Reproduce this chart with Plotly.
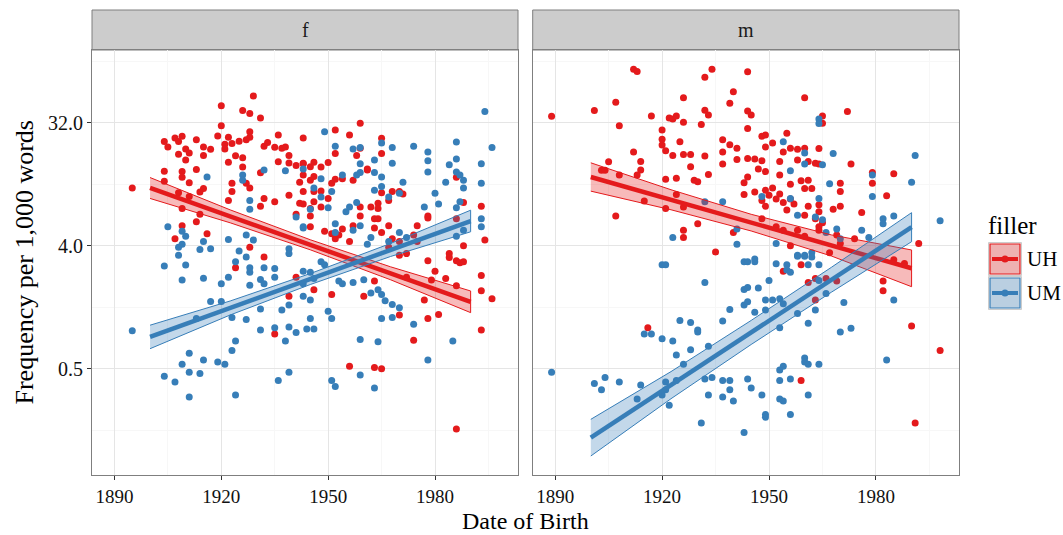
import plotly.graph_objects as go
import math

# ---------------- data ----------------
f_uh_year = [1895,1929,1920,1926,1928,1931,1920,1919,1904,1905,1907,1908,1909,1913,1915,1917,1910,1911,1910,1908,
             1915,1913,1904,1909,1909,1911,1904,1915,1914,1908,1911,1909,1914,1913,1916,1909,1907,1921,1921,1922,
             1923,1925,1927,1928,1928,1924,1926,1922,1926,1923,1923,1927,1928,1922,1931,1932,1933,1935,1936,1937,
             1938,1939,1936,1939,1941,1943,1943,1942,1939,1942,1935,1932,1931,1941,1928,1932,1924,1939,1935,1941,
             1952,1956,1959,1952,1958,1959,1965,1965,1943,1945,1946,1948,1950,1943,1945,1946,1952,1954,1957,1961,
             1943,1946,1948,1951,1946,1948,1950,1945,1943,1945,1945,1949,1952,1954,1957,1959,1959,1962,1964,1964,
             1965,1967,1968,1970,1971,1963,1964,1965,1967,1963,1956,1953,1951,1968,1970,1975,1975,1978,1978,1986,
             1988,1993,1994,1988,1984,1974,1972,1970,1967,1961,1986,
             1993,1993,1996,1993,1978,1980,1983,1986,1979,1977,1981,1978,1970,1974,1984,1986,1987,1988,1972,1951,
             1960,1963,1946,1956,1963,1965,1986]
f_uh_freq = [10.6,50.3,42.6,39.3,37.4,34.6,30.4,25.6,23.3,21.2,24.7,23.3,25.4,24,21.2,20.4,20.5,19.2,17,18.8,
             18.4,14.5,14.1,14.0,12.7,11.6,11.9,10.5,9.9,9.8,9.2,7.5,6.8,6.0,4.9,5.6,4.5,22.2,20.5,25,
             22.5,23.4,24,27.5,25,18.3,17.7,16.4,15.1,11.5,10.0,11.5,10.6,8.6,13.7,21.5,22.9,21.1,26,20.8,
             21.2,18.4,16.5,16.2,15.5,24.7,16.1,11.7,9.4,8.2,8.4,8.9,7.8,6.8,3.9,3.3,2.75,1.7,0.9,2.35,
             28.3,26,31.7,19,18.4,20.8,24.6,19,16.0,15.2,16.4,15.1,16.3,13.2,12.1,12.9,12.3,12.4,12.1,14.4,
             10.0,10.0,10.1,11.5,8.4,7.7,8.9,7.5,8.1,6.6,5.5,5.1,4.5,5.3,5.6,6.6,7.7,7.7,8.2,7.5,
             9.8,8.6,10.0,10.0,9.6,6.3,6.3,5.0,5.6,5.4,4.3,4.8,4.9,4.5,4.3,5.6,4.3,6.6,6.4,6.3,
             8.3,7.8,4.4,4.0,3.5,4.8,3.5,3.4,3.9,14.6,12.7,
             2.42,1.87,1.63,0.96,3.1,2.6,2.3,2.03,2.24,1.6,1.25,1.17,1.24,0.81,3.28,3.1,3.0,3.05,2.35,1.75,
             1.7,2.2,1.9,0.52,0.51,0.5,0.18]

f_um_year = [1916,1926,1926,1932,1938,1943,1928,1928,1905,1909,1910,1908,1909,1915,1917,1914,1922,1927,1929,1925,
             1927,1908,1941,1943,1939,1939,
             1904,1910,1909,1915,1920,1922,1924,1928,1928,1932,1935,1935,1931,1932,1928,1917,1920,1913,1923,1927,
             1931,1937,1939,1895,1931,1935,1939,1941,1938,1924,1923,1911,1909,1915,1919,1921,1904,1907,1911,1914,
             1911,1924,1936,1939,1943,
             1994,1996,1949,1952,1957,1959,1965,1968,1974,1978,1978,1978,1986,1986,1984,1986,1987,1988,1988,1993,
             1993,1983,1980,1981,1977,1987,1986,1993,1993,1986,1988,1963,1959,1959,1958,1954,1963,1965,1965,1963,
             1968,1971,1970,1967,1948,1946,1948,1951,1950,1945,1943,1952,1955,1956,1958,1959,1957,1952,1961,1962,
             1967,1970,1972,
             1985,1978,1959,1964,1951,1952,1959,1963,1950,1951,1945,1944,1946,1945,1965,1968,1968,1970,1974,1953,
             1954,1957,1960,1962,1964,1965,1966,1943,1945,1946,1948,1949,1943]
f_um_freq = [12.8,13.2,12.1,14.4,14.2,14.6,8.6,7.4,5.5,5.1,4.7,3.9,4.1,4.3,3.8,3.75,4.45,4.8,4.4,3.65,
             3.3,3.4,6.5,5.4,3.8,3.5,
             2.84,2.89,2.24,2.31,2.1,2.35,3.05,2.75,2.55,2.76,2.72,2.35,2.26,2.1,2.05,1.56,1.56,1.17,1.19,1.15,
             1.37,1.35,1.47,0.95,0.96,1.0,1.01,0.92,0.8,0.8,0.68,0.65,0.54,0.58,0.56,0.54,0.44,0.4,0.47,0.46,
             0.31,0.32,0.41,0.47,1.7,
             38.7,21,27.5,21.5,20.5,21,22.7,21,21.5,19.5,16.8,13.9,23.1,17.3,15.7,13.9,13.2,12.1,10.6,16,
             11.5,11.7,9.7,8.1,7.7,8.4,7.6,6.3,5.5,4.7,5.2,17,16,13.8,13.2,13.2,13.8,12.8,10.9,10.2,
             16.1,11.7,9.7,9.1,12.4,10.6,9.1,10,7.6,7.4,5.5,5.8,7.1,7.7,8.3,5.6,5.2,5.0,4.1,4.6,
             4.3,5.0,4.6,
             0.8,0.58,0.82,0.79,0.41,0.37,0.45,0.36,1.32,1.17,1.17,0.98,0.98,1.6,1.17,1.19,1.48,1.4,1.06,2.2,
             2.1,2.15,2.25,1.8,1.9,1.75,1.58,2.6,2.55,2.3,3.05,2.9,2.1]

m_uh_year = [1889,1901,1907,1912,1913,1917,1908,1922,1923,1924,1926,1926,1932,1934,1932,1933,1931,1940,1939,1920,
             1920,1920,1921,1925,1923,1926,1928,1932,1928,1933,1929,1930,1937,1937,1939,1941,1937,1941,1943,1943,
             1912,1914,1914,1913,1905,1903,1904,1908,1921,1924,1924,1921,1915,1907,1926,1926,1930,1935,1940,1926,
             1944,1960,1972,1944,1945,1944,1948,1949,1955,1951,1949,1956,1958,1960,1964,1954,1953,1948,1946,1944,
             1961,1963,1964,1958,1973,1947,1949,1953,1944,1956,1959,1961,1960,1962,1951,1949,1946,1953,1950,1952,
             1948,1949,1954,1956,1957,1961,1964,1964,1963,1965,1964,1964,1968,1970,1970,1970,1979,1979,1985,1983,
             1976,1955,1960,1948,1952,1954,1956,1958,1960,1967,1969,1970,1974,1992,1965,1965,
             1916,1990,1998,1991,1982,1982,1959,1985,1988,1954,1959,1961,1963,1963,1966,1969]
m_uh_freq = [35.7,39.3,45.2,79,76,35.9,30.4,34.6,34,35.9,48.7,32.3,69,79,39.5,36.5,31,54,44.5,28.3,
             24.2,21.9,19.9,23.2,18.4,18.7,18.7,18.2,15.2,13.3,12.1,11.8,24,19.5,22,20.8,15.9,17.2,11.6,9.5,
             19.5,16.6,14.4,13.2,16.5,14.3,14.3,13.2,12.3,12.5,9.5,7.5,8.5,6.6,5.2,4.6,5.8,3.6,5.0,7.7,
             75.7,48.7,38.7,39,36.5,29,25.4,26,26.8,22.7,21.2,20.8,20.4,20.8,20.7,19.5,16.6,16.8,17.3,17.5,
             16.6,16.1,15.9,17,15.9,14.6,14.0,13.2,12.8,11.3,12,12.1,10.5,10.5,10.6,10.2,9.9,9.6,9.4,8.8,
             8.6,7.8,8.3,8.8,8.1,7.8,8.0,7.1,6.3,5.9,5.5,5.2,7.4,7.8,10,11.5,13.8,11.5,13.5,9.3,
             7.0,7.3,6.7,6.3,5.5,5.2,4.0,5.2,4.7,3.55,4.8,4.15,4.5,4.15,35.9,31.7,
             1.0,1.03,0.68,0.2,2.2,1.87,0.41,3.15,2.96,2.6,2.9,2.15,2.3,1.6,2.3,2.2]

m_um_year = [1932,1937,1923,1941,1941,
             1964,1964,1954,1960,1960,1965,1968,1956,1991,1990,1979,1979,1967,1948,1956,1964,1958,1963,1965,1969,
             1976,1978,1982,1982,1985,1998,1966,1970,1952,1958,1960,1962,1946,
             1920,1921,1932,1939,1937,1925,1928,1930,1930,1915,1917,1920,1923,1924,1926,1928,1933,1889,1901,1903,
             1904,1908,1914,1913,1921,1921,1920,1922,1924,1932,1934,1937,1939,1939,1937,1940,1933,1931,1943,1943,
             1943,1943,
             1944,1946,1952,1955,1955,1956,1958,1960,1961,1962,1964,1950,1947,1944,1944,1946,1949,1949,1951,1953,
             1954,1958,1961,1963,1964,1966,1971,1970,1973,1985,1953,1960,1960,1961,1964,1954,1953,1953,1956,1944,
             1945,1948,1953,1954,1961,1956,1949,1949,1983]
m_um_freq = [8.4,8.4,4.6,5.3,4.1,
             34,31.5,23.2,19.2,15.9,15.7,19,14.2,18.4,11.7,13.2,9.2,11.4,9.2,8.9,8.9,6.7,6.5,6.2,5.3,
             5.2,4.6,6.3,5.8,6.6,6.1,5.0,4.5,4.15,3.4,3.4,3.55,3.2,
             2.9,2.9,2.15,1.36,1.12,1.13,1.09,0.96,0.93,0.9,0.9,0.83,0.8,0.63,0.54,0.69,0.73,0.47,0.39,0.35,
             0.43,0.4,0.38,0.3,0.4,0.35,0.32,0.27,0.41,0.42,0.43,0.41,0.41,0.35,0.31,0.29,0.32,0.2,0.17,3.05,
             1.91,1.47,
             3.05,3.05,2.95,2.9,2.65,2.55,3.35,3.35,2.9,3.3,2.9,2.22,1.96,1.97,1.55,1.3,1.6,1.35,1.6,1.63,
             1.5,1.27,1.08,1.35,2.22,1.78,1.53,0.93,0.99,1.6,1.0,0.6,0.56,0.54,0.54,0.52,0.49,0.41,0.42,0.42,
             0.36,0.32,0.3,0.29,0.32,0.23,0.23,0.22,0.58]

# fitted regression lines (log scale) with 95% confidence band, read at these years
fit_year = [1900, 1922.5, 1945, 1967.5, 1990]
f_uh_fit = [10.61, 6.56, 4.05, 2.51, 1.55]
f_uh_hi = [12.66, 7.33, 4.42, 2.80, 1.86]
f_uh_lo = [8.89, 5.89, 3.73, 2.25, 1.29]
f_um_fit = [0.855, 1.395, 2.278, 3.72, 6.07]
f_um_hi = [1.043, 1.571, 2.498, 4.15, 7.29]
f_um_lo = [0.701, 1.240, 2.075, 3.33, 5.06]
m_uh_fit = [12.78, 8.69, 5.90, 4.01, 2.73]
m_uh_hi = [16.24, 10.30, 6.80, 4.80, 3.72]
m_uh_lo = [10.06, 7.34, 5.13, 3.36, 2.00]
m_um_fit = [0.1558, 0.379, 0.922, 2.248, 5.47]
m_um_hi = [0.2124, 0.476, 1.131, 2.775, 6.99]
m_um_lo = [0.1142, 0.301, 0.753, 1.822, 4.28]

facets = ["f", "m"]
fillers = ["UH", "UM"]
x_ticks = [1890, 1920, 1950, 1980]
x_minor = [1905, 1935, 1965, 1995]
y_ticks = [0.5, 4, 32]
y_tick_labels = ["0.5", "4.0", "32.0"]
y_minor = [0.1768, 1.4142, 11.314, 90.51]

# ---------------- styling ----------------
RED = "#E41A1C"
BLUE = "#377EB8"
RED_FILL = "rgba(228,26,28,0.30)"
BLUE_FILL = "rgba(55,126,184,0.30)"
FONT = "Liberation Serif"
W, H = 1063, 535
L_PX, R_PX, T_PX, B_PX = 92, 959, 10, 475   # plot region (pixels)
PANEL_TOP = 50

def px(x):
    return (x - L_PX) / (R_PX - L_PX)

def py(y):
    return (B_PX - y) / (B_PX - T_PX)

fig = go.Figure()

groups = {
    ("f", "UH"): (f_uh_year, f_uh_freq, f_uh_fit, f_uh_lo, f_uh_hi),
    ("f", "UM"): (f_um_year, f_um_freq, f_um_fit, f_um_lo, f_um_hi),
    ("m", "UH"): (m_uh_year, m_uh_freq, m_uh_fit, m_uh_lo, m_uh_hi),
    ("m", "UM"): (m_um_year, m_um_freq, m_um_fit, m_um_lo, m_um_hi),
}
colors = {"UH": (RED, RED_FILL), "UM": (BLUE, BLUE_FILL)}
axes = {"f": ("x", "y"), "m": ("x2", "y2")}

for fac in facets:
    xa, ya = axes[fac]
    for fil in fillers:
        yr, fr, _, _, _ = groups[(fac, fil)]
        fig.add_trace(go.Scatter(x=yr, y=fr, mode="markers", xaxis=xa, yaxis=ya,
                                 marker=dict(color=colors[fil][0], size=7, line=dict(width=0)),
                                 showlegend=False, hoverinfo="skip"))
    for fil in fillers:
        _, _, fit, lo, hi = groups[(fac, fil)]
        col, fill = colors[fil]
        fig.add_trace(go.Scatter(x=fit_year + fit_year[::-1], y=hi + lo[::-1], mode="lines",
                                 fill="toself", fillcolor=fill, line=dict(color=col, width=1),
                                 xaxis=xa, yaxis=ya, showlegend=False, hoverinfo="skip"))
        fig.add_trace(go.Scatter(x=fit_year, y=fit, mode="lines", line=dict(color=col, width=4.5),
                                 xaxis=xa, yaxis=ya, showlegend=False, hoverinfo="skip"))

ylo, yhi = math.log10(2 ** -3.593), math.log10(2 ** 6.773)
ydom_top = py(PANEL_TOP)
split = (518 - L_PX) / (R_PX - L_PX)
split2 = (532.7 - L_PX) / (R_PX - L_PX)

grid_major = "#E5E5E5"
grid_minor = "#F7F7F7"
axis_common = dict(showline=True, mirror=True, linecolor="#7F7F7F", linewidth=1,
                   gridcolor=grid_major, gridwidth=1, zeroline=False,
                   ticks="outside", ticklen=4, tickcolor="#333333", tickwidth=1,
                   tickfont=dict(family=FONT, size=19, color="#111111"))

xcommon = dict(axis_common, range=[1883.7, 2003.3], tickmode="array", tickvals=x_ticks,
               ticktext=[str(v) for v in x_ticks],
               minor=dict(tickvals=x_minor, showgrid=True, gridcolor=grid_minor, gridwidth=1))
ycommon = dict(axis_common, type="log", range=[ylo, yhi], tickmode="array", tickvals=y_ticks,
               ticktext=y_tick_labels,
               minor=dict(tickvals=y_minor, showgrid=True, gridcolor=grid_minor, gridwidth=1))

fig.update_layout(
    width=W, height=H,
    margin=dict(l=L_PX, r=W - R_PX, t=T_PX, b=H - B_PX),
    paper_bgcolor="white", plot_bgcolor="white",
    showlegend=False,
    xaxis=dict(xcommon, domain=[0, split], anchor="y"),
    xaxis2=dict(xcommon, domain=[split2, 1], anchor="y2"),
    yaxis=dict(ycommon, domain=[0, ydom_top], anchor="x", tickfont=dict(family=FONT, size=20, color="#111111")),
    yaxis2=dict(ycommon, domain=[0, ydom_top], anchor="x2", matches="y", showticklabels=False,
                ticks=""),
)

shapes = []
annotations = []
# facet strips
for fac, (d0, d1) in zip(facets, [(0, split), (split2, 1)]):
    shapes.append(dict(type="rect", xref="paper", yref="paper", x0=d0, x1=d1, y0=ydom_top, y1=1,
                       fillcolor="#CCCCCC", line=dict(color="#7F7F7F", width=1), layer="below"))
    annotations.append(dict(text=fac, xref="paper", yref="paper", x=(d0 + d1) / 2,
                            y=(ydom_top + 1) / 2, showarrow=False,
                            font=dict(family=FONT, size=20, color="#1A1A1A"),
                            xanchor="center", yanchor="middle"))

# axis titles
annotations.append(dict(text="Date of Birth", xref="paper", yref="paper", x=px(525.5), y=py(521),
                        showarrow=False, font=dict(family=FONT, size=24, color="black"),
                        xanchor="center", yanchor="middle"))
annotations.append(dict(text="Frequency per 1,000 words", xref="paper", yref="paper", x=px(24),
                        y=py(262.5), showarrow=False, textangle=-90,
                        font=dict(family=FONT, size=26, color="black"),
                        xanchor="center", yanchor="middle"))

# legend (drawn manually to mimic ggplot key: filled box + line + point)
annotations.append(dict(text="filler", xref="paper", yref="paper", x=px(986), y=py(226),
                        showarrow=False, font=dict(family=FONT, size=25, color="black"),
                        xanchor="left", yanchor="middle"))
for i, fil in enumerate(fillers):
    col, fill = colors[fil]
    top = 242.5 + i * 34
    bot = top + 33
    cy = (top + bot) / 2
    shapes.append(dict(type="rect", xref="paper", yref="paper", x0=px(988.5), x1=px(1021.5),
                       y0=py(bot), y1=py(top), fillcolor="#F2F2F2",
                       line=dict(color="#CCCCCC", width=1)))
    shapes.append(dict(type="rect", xref="paper", yref="paper", x0=px(990), x1=px(1020),
                       y0=py(bot - 1.5), y1=py(top + 1.5), fillcolor=fill,
                       line=dict(color=col, width=1.2)))
    shapes.append(dict(type="line", xref="paper", yref="paper", x0=px(992), x1=px(1018),
                       y0=py(cy), y1=py(cy), line=dict(color=col, width=4)))
    shapes.append(dict(type="circle", xref="paper", yref="paper", x0=px(1001.5), x1=px(1008.5),
                       y0=py(cy + 3.5), y1=py(cy - 3.5), fillcolor=col, line=dict(width=0)))
    annotations.append(dict(text=fil, xref="paper", yref="paper", x=px(1025), y=py(cy),
                            showarrow=False, font=dict(family=FONT, size=21, color="black"),
                            xanchor="left", yanchor="middle"))

fig.update_layout(shapes=shapes, annotations=annotations)
fig.write_html("out.html")
